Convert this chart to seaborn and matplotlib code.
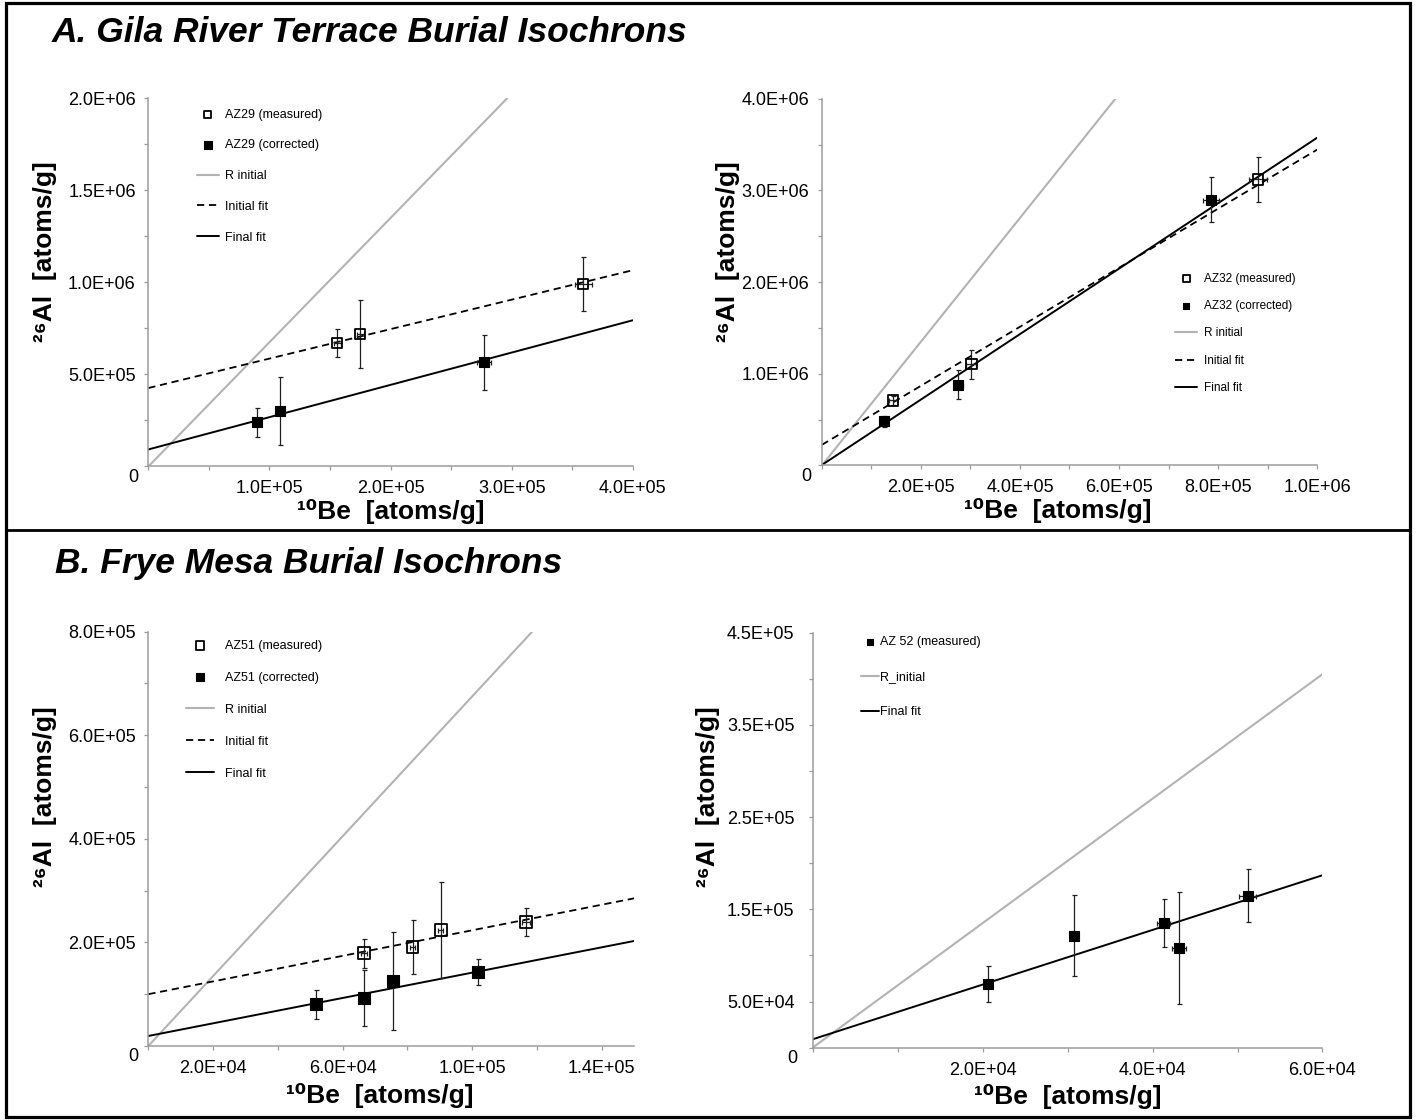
import numpy as np
import pandas as pd
import matplotlib
matplotlib.use("Agg")
import matplotlib.pyplot as plt
import seaborn as sns
from matplotlib.lines import Line2D
from matplotlib.patches import Rectangle
from matplotlib.ticker import FixedLocator, MultipleLocator, FuncFormatter

# ---- data ----
# A. Gila River, AZ29
az29_meas_be = [1.56e5, 1.75e5, 3.59e5]
az29_meas_al = [6.70e5, 7.20e5, 9.90e5]
az29_meas_be_err = [3e3, 3e3, 7e3]
az29_meas_al_err = [7.8e4, 1.85e5, 1.47e5]
az29_corr_be = [0.90e5, 1.09e5, 2.77e5]
az29_corr_al = [2.40e5, 3.00e5, 5.65e5]
az29_corr_be_err = [2e3, 2e3, 6e3]
az29_corr_al_err = [8.0e4, 1.85e5, 1.47e5]

# A. Gila River, AZ32
az32_meas_be = [1.44e5, 3.02e5, 8.81e5]
az32_meas_al = [7.10e5, 1.105e6, 3.12e6]
az32_meas_be_err = [8e3, 1.0e4, 1.8e4]
az32_meas_al_err = [5.0e4, 1.6e5, 2.45e5]
az32_corr_be = [1.25e5, 2.75e5, 7.86e5]
az32_corr_al = [4.80e5, 8.80e5, 2.90e6]
az32_corr_be_err = [7e3, 9e3, 1.6e4]
az32_corr_al_err = [6.5e4, 1.6e5, 2.45e5]

# B. Frye Mesa, AZ51
az51_meas_be = [6.66e4, 8.16e4, 9.03e4, 1.165e5]
az51_meas_al = [1.79e5, 1.905e5, 2.24e5, 2.40e5]
az51_meas_be_err = [800, 800, 800, 1200]
az51_meas_al_err = [2.8e4, 5.2e4, 9.3e4, 2.7e4]
az51_corr_be = [5.18e4, 6.67e4, 7.56e4, 1.019e5]
az51_corr_al = [8.05e4, 9.20e4, 1.255e5, 1.42e5]
az51_corr_be_err = [800, 800, 800, 1200]
az51_corr_al_err = [2.8e4, 5.4e4, 9.4e4, 2.5e4]

# B. Frye Mesa, AZ 52
az52_be = [2.06e4, 3.08e4, 4.13e4, 4.31e4, 5.12e4]
az52_al = [6.90e4, 1.215e5, 1.35e5, 1.08e5, 1.648e5]
az52_be_err = [300, 300, 770, 850, 1000]
az52_al_err = [1.95e4, 4.4e4, 2.6e4, 6.1e4, 2.9e4]

# lines: (intercept, slope)
r_initial = 6.75
az29_initial_fit = (4.26e5, 1.60)
az29_final_fit = (9.25e4, 1.754)
az32_initial_fit = (2.25e5, 3.22)
az32_final_fit = (5e3, 3.57)
az51_initial_fit = (1.0e5, 1.234)
az51_final_fit = (1.93e4, 1.223)
az52_final_fit = (9.06e3, 2.965)

GRAY = "#b3b3b3"
AXGRAY = "#9c9c9c"

sns.set_theme(style="white")
plt.rcParams["font.family"] = ["Liberation Sans", "DejaVu Sans"]
plt.rcParams["text.color"] = "black"
plt.rcParams["axes.labelcolor"] = "black"

fig = plt.figure(figsize=(14.17, 11.2), dpi=100)

# axes placed to match the reference panels
ax_a1 = fig.add_axes([0.1047, 0.5835, 0.3419, 0.3288])
ax_a2 = fig.add_axes([0.5800, 0.5844, 0.3495, 0.3274])
ax_b1 = fig.add_axes([0.1047, 0.0661, 0.3428, 0.3699])
ax_b2 = fig.add_axes([0.5735, 0.0646, 0.3598, 0.3705])


def points(ax, be, al, be_err, al_err, label, filled, size):
    ax.errorbar(be, al, xerr=be_err, yerr=al_err, fmt="none", ecolor="#202020",
                elinewidth=0.9, capsize=1.8, capthick=0.9, zorder=3)
    df = pd.DataFrame({"be": be, "al": al})
    if filled:
        sns.scatterplot(data=df, x="be", y="al", marker="s", s=size, color="black",
                        edgecolor="black", linewidth=0.8, ax=ax, label=label, zorder=4)
    else:
        sns.scatterplot(data=df, x="be", y="al", marker="s", s=size, color="black",
                        facecolor="none", edgecolor="black", linewidth=1.3, ax=ax,
                        label=label, zorder=4)


def fit_lines(ax, initial, final, r_label="R initial"):
    ax.axline((0, 0), slope=r_initial, color=GRAY, lw=1.5, label=r_label, zorder=2)
    if initial is not None:
        ax.axline((0, initial[0]), slope=initial[1], color="black", lw=1.3,
                  ls=(0, (4, 2.6)), label="Initial fit", zorder=2)
    ax.axline((0, final[0]), slope=final[1], color="black", lw=1.4,
              label="Final fit", zorder=2)


def style_axes(ax, xlim, xmajor, xminor, ylim, ymajor, yminor, ypad=6):
    ax.set_xlim(*xlim)
    ax.set_ylim(*ylim)
    ax.xaxis.set_major_locator(FixedLocator(xmajor))
    ax.xaxis.set_minor_locator(MultipleLocator(xminor))
    ax.yaxis.set_major_locator(FixedLocator(ymajor))
    ax.yaxis.set_minor_locator(MultipleLocator(yminor))
    fmt = FuncFormatter(lambda v, p: f"{v:.1E}")
    ax.xaxis.set_major_formatter(fmt)
    ax.yaxis.set_major_formatter(fmt)
    for side in ["top", "right"]:
        ax.spines[side].set_visible(False)
    for side in ["left", "bottom"]:
        ax.spines[side].set_color(AXGRAY)
        ax.spines[side].set_linewidth(1.1)
    ax.tick_params(which="both", direction="out", length=3, width=0.9,
                   color=AXGRAY, labelsize=13, labelcolor="black")
    ax.tick_params(axis="x", which="both", bottom=True, pad=7)
    ax.tick_params(axis="y", which="both", left=True, pad=ypad)
    ax.annotate("0", xy=(0, 0), xycoords="axes fraction",
                xytext=(-10 - (ypad - 6) * 1.4, -11), textcoords="offset pixels",
                ha="right", va="center", fontsize=13, color="black")


def labels(ax, xpos, ypos):
    ax.set_xlabel("¹⁰Be  [atoms/g]", fontsize=19, fontweight="bold", va="center",
                  color="black")
    ax.set_ylabel("²⁶Al  [atoms/g]", fontsize=19, fontweight="bold", va="center",
                  color="black")
    ax.xaxis.set_label_coords(*xpos)
    ax.yaxis.set_label_coords(*ypos)


def legend(ax, order, anchor, fontsize, handlelength, handletextpad, labelspacing,
           markerscale=0.7):
    h, l = ax.get_legend_handles_labels()
    lookup = dict(zip(l, h))
    leg = ax.legend([lookup[k] for k in order], order, loc="upper left",
                    bbox_to_anchor=anchor, frameon=False, borderpad=0,
                    borderaxespad=0, fontsize=fontsize, handlelength=handlelength,
                    handletextpad=handletextpad, labelspacing=labelspacing,
                    markerscale=markerscale)
    for t in leg.get_texts():
        t.set_color("black")


# ---- A left: AZ29 ----
points(ax_a1, az29_meas_be, az29_meas_al, az29_meas_be_err, az29_meas_al_err,
       "AZ29 (measured)", False, 50)
points(ax_a1, az29_corr_be, az29_corr_al, az29_corr_be_err, az29_corr_al_err,
       "AZ29 (corrected)", True, 55)
fit_lines(ax_a1, az29_initial_fit, az29_final_fit)
style_axes(ax_a1, (0, 4e5), [1e5, 2e5, 3e5, 4e5], 5e4,
           (0, 2e6), [5e5, 1e6, 1.5e6, 2e6], 2.5e5)
labels(ax_a1, (0.5, -0.122), (-0.213, 0.583))
legend(ax_a1, ["AZ29 (measured)", "AZ29 (corrected)", "R initial", "Initial fit",
               "Final fit"], (0.100, 0.972), 9, 1.75, 0.5, 1.5)

# ---- A right: AZ32 ----
points(ax_a2, az32_meas_be, az32_meas_al, az32_meas_be_err, az32_meas_al_err,
       "AZ32 (measured)", False, 55)
points(ax_a2, az32_corr_be, az32_corr_al, az32_corr_be_err, az32_corr_al_err,
       "AZ32 (corrected)", True, 48)
fit_lines(ax_a2, az32_initial_fit, az32_final_fit)
style_axes(ax_a2, (0, 1e6), [2e5, 4e5, 6e5, 8e5, 1e6], 1e5,
           (0, 4e6), [1e6, 2e6, 3e6, 4e6], 5e5)
labels(ax_a2, (0.477, -0.124), (-0.19, 0.583))
legend(ax_a2, ["AZ32 (measured)", "AZ32 (corrected)", "R initial", "Initial fit",
               "Final fit"], (0.713, 0.526), 8.5, 1.9, 0.55, 1.3)

# ---- B left: AZ51 ----
points(ax_b1, az51_meas_be, az51_meas_al, az51_meas_be_err, az51_meas_al_err,
       "AZ51 (measured)", False, 72)
points(ax_b1, az51_corr_be, az51_corr_al, az51_corr_be_err, az51_corr_al_err,
       "AZ51 (corrected)", True, 72)
fit_lines(ax_b1, az51_initial_fit, az51_final_fit)
style_axes(ax_b1, (0, 1.5e5), [2e4, 6e4, 1e5, 1.4e5], 2e4,
           (0, 8e5), [2e5, 4e5, 6e5, 8e5], 1e5)
labels(ax_b1, (0.477, -0.12), (-0.213, 0.601))
legend(ax_b1, ["AZ51 (measured)", "AZ51 (corrected)", "R initial", "Initial fit",
               "Final fit"], (0.077, 0.981), 9, 2.27, 0.88, 1.6, markerscale=0.75)

# ---- B right: AZ 52 ----
points(ax_b2, az52_be, az52_al, az52_be_err, az52_al_err, "AZ 52 (measured)",
       True, 50)
fit_lines(ax_b2, None, az52_final_fit, r_label="R_initial")
style_axes(ax_b2, (0, 6e4), [2e4, 4e4, 6e4], 1e4,
           (0, 4.5e5), [5e4, 1.5e5, 2.5e5, 3.5e5, 4.5e5], 5e4, ypad=10)
labels(ax_b2, (0.50, -0.118), (-0.205, 0.604))
legend(ax_b2, ["AZ 52 (measured)", "R_initial", "Final fit"], (0.095, 0.992),
       9, 1.44, 0.08, 1.85)

# ---- section titles and frame ----
fig.text(52 / 1417, 1 - 32 / 1120, "A. Gila River Terrace Burial Isochrons",
         fontsize=25.5, fontweight="bold", fontstyle="italic", ha="left",
         va="center", color="black")
fig.text(55 / 1417, 1 - 564 / 1120, "B. Frye Mesa Burial Isochrons",
         fontsize=25.5, fontweight="bold", fontstyle="italic", ha="left",
         va="center", color="black")

fig.add_artist(Rectangle((6 / 1417, 3 / 1120), 1404 / 1417, 1114 / 1120,
                         transform=fig.transFigure, fill=False, lw=2.3,
                         ec="black"))
fig.add_artist(Line2D([6 / 1417, 1410 / 1417], [1 - 530 / 1120, 1 - 530 / 1120],
                      transform=fig.transFigure, color="black", lw=2.0))

fig.savefig("out.png", dpi=100, facecolor="white")
